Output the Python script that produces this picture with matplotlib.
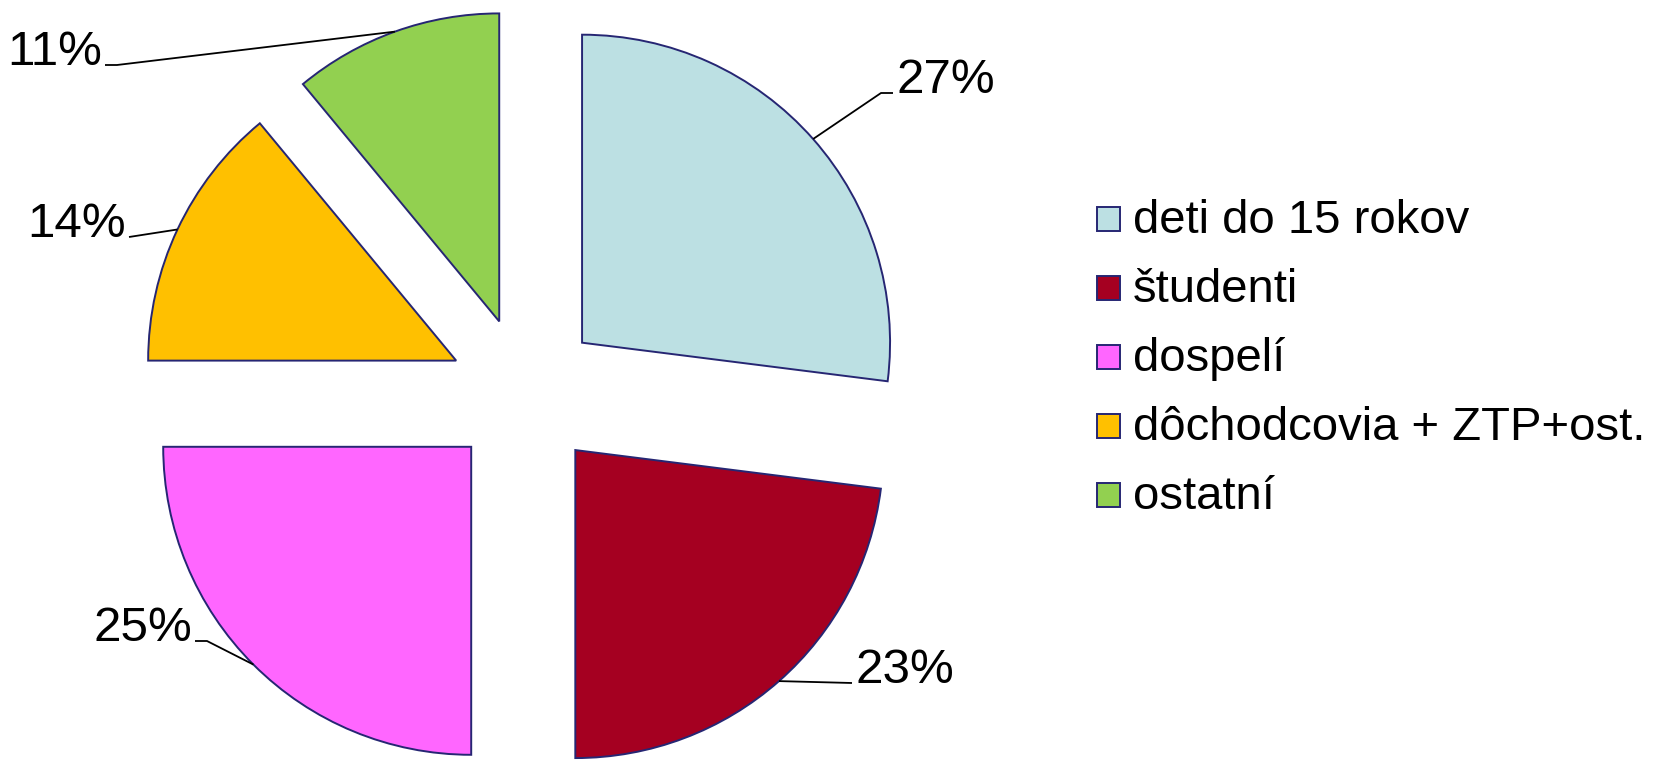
import numpy as np
import matplotlib.pyplot as plt
from matplotlib.patches import Rectangle

plt.rcParams['font.family'] = ['Liberation Sans', 'DejaVu Sans']

categories = ['deti do 15 rokov', 'študenti', 'dospelí', 'dôchodcovia + ZTP+ost.', 'ostatní']
shares = [27, 23, 25, 14, 11]
colors = ['#BCE0E3', '#A50021', '#FF66FF', '#FFC000', '#92D050']
edge = '#262673'

W, H = 1660, 760
fig = plt.figure(figsize=(W / 100, H / 100), dpi=100)
ax = fig.add_axes([0, 0, 1, 1])

# pie in pixel units (y up)
R = 308
cx, cy = 525, H - 393
wedges, _ = ax.pie(shares, colors=colors, startangle=90, counterclock=False,
                   radius=R, center=(cx, cy), explode=[0.247 * R] * len(shares),
                   wedgeprops=dict(edgecolor=edge, linewidth=1.4))

# label end points (where the short horizontal tick meets the text), side
label_pos = [(893, 93, 1), (852, 683, 1), (195, 641, -1), (129, 237, -1), (105, 65, -1)]

for w, v, (lx, ly, side) in zip(wedges, shares, label_pos):
    mid = np.deg2rad((w.theta1 + w.theta2) / 2)
    ax_x = w.center[0] + w.r * np.cos(mid)
    ax_y = w.center[1] + w.r * np.sin(mid)
    ey = H - ly
    if abs(ey - ax_y) > 8:
        xs = [ax_x, lx - side * 12, lx]
        ys = [ax_y, ey, ey]
    else:
        xs = [ax_x, lx]
        ys = [ax_y, ey]
    ax.plot(xs, ys, color='black', lw=1.3, solid_capstyle='butt')
    ax.text(lx + side * 3, ey, f'{v}%', fontsize=35.5,
            ha='left' if side > 0 else 'right', va='baseline')

# legend
for i, (name, c) in enumerate(zip(categories, colors)):
    yc = H - (218.5 + 69 * i)
    ax.add_patch(Rectangle((1097, yc - 12), 23, 24, facecolor=c,
                           edgecolor=edge, linewidth=1.4))
    ax.text(1133, yc - 14.5, name, fontsize=34, ha='left', va='baseline')

ax.set_xlim(0, W)
ax.set_ylim(0, H)
ax.set_aspect('equal')
ax.axis('off')

fig.savefig('out.png', dpi=100)
